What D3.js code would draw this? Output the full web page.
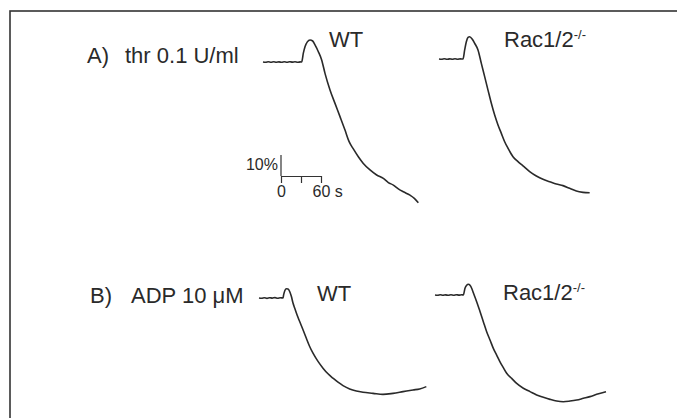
<!DOCTYPE html>
<html>
<head>
<meta charset="utf-8">
<script src="https://cdn.jsdelivr.net/npm/d3@7/dist/d3.min.js"></script>
<style>
body { margin: 0; background: #fff; }
text { font-family: "Liberation Sans", Arial, sans-serif; fill: #2a2a2a; }
</style>
</head>
<body>
<div class="chart"></div>
<script>
var svgWidth = 677;
var svgHeight = 418;

// aggregation traces: [time (s), light transmission change (%)], positive = downward
var wtThr = [
    [0, 0], [4, 0.15], [8, -0.1], [12, 0.1], [16, -0.15], [20, 0.1], [24, -0.05], [28, 0.15],
    [32, -0.1], [36, 0.1], [40, -0.15], [44, 0.05], [48, -0.1], [52, 0.15], [56, -0.05], [58, 0],
    [60.5, -4.2], [63, -7.3], [66.5, -9.6], [70.5, -10.5], [74.5, -10], [78, -8.1], [83, -4.9],
    [88, -1], [93, 5.4], [100.5, 13.3], [108, 19.7], [115.5, 26], [123, 32.4], [129, 37.8],
    [135.5, 41.4], [143, 45.1], [150.5, 48.3], [160.5, 51.4], [170.5, 53.8], [180.5, 55.4],
    [188, 57.4], [195.5, 58.6], [203, 60.4], [210.5, 61.8], [220.5, 63.4], [227, 64.9], [233, 67]
];
var racThr = [
    [0, 0], [4, 0.1], [8, -0.1], [12, 0.15], [16, -0.05], [20, 0.1], [24, -0.15], [28, 0.1],
    [32, -0.05], [36, 0], [38.5, -4.3], [41, -8.2], [43.5, -10.3], [46, -10.6], [50, -9.4],
    [53.5, -7.5], [58.5, -4.3], [63.5, 2.1], [68.5, 8.4], [73.5, 14.8], [78.5, 21.1], [83.5, 26.7],
    [88.5, 31.4], [93.5, 35.4], [98.5, 39.4], [103.5, 42.5], [111, 46.5], [118.5, 48.9],
    [126, 50.9], [136, 53.6], [146, 55.7], [156, 57.3], [166, 58.4], [176, 59.5], [186, 60.3],
    [196, 61.6], [206, 62.9], [216, 63.5], [226, 63.7]
];
var wtAdp = [
    [0, 0], [4, 0.15], [8, -0.1], [12, 0.2], [16, -0.15], [20, 0.05], [24, -0.2], [28, 0.15],
    [32, -0.1], [36, 0], [37, -1.6], [39, -3.7], [41, -4.4], [43.5, -4.3], [46, -3.1],
    [48.5, -0.8], [51, 2.4], [53.5, 4.8], [57, 8], [61, 11.2], [66, 15.1], [71, 19.2],
    [76, 23.1], [81, 26.3], [88.5, 30.2], [96, 33.4], [103.5, 36.1], [111, 38.2], [118.5, 40.1],
    [126, 41.7], [136, 43.3], [146, 44.3], [156, 44.9], [171, 45.4], [186, 45.9], [201, 45.4],
    [216, 44.6], [231, 43.8], [241, 43.3], [251, 42.2]
];
var racAdp = [
    [0, 0], [4, 0.1], [8, -0.15], [12, 0.1], [16, -0.05], [20, 0.15], [24, -0.1], [28, 0.1],
    [32, -0.15], [36, 0.05], [40, -0.1], [42.5, 0], [45, -3.2], [47.5, -4.6], [50, -5.1],
    [52.5, -4.6], [55, -3.2], [57.5, -1.1], [60, 1.1], [62.5, 3.2], [67.5, 7.9], [72.5, 12.7],
    [77.5, 17.5], [82.5, 21.4], [87.5, 25.4], [92.5, 28.6], [97.5, 31.8], [102.5, 34.6],
    [107.5, 37.3], [115, 39.7], [122.5, 42.1], [132.5, 44.4], [142.5, 46], [152.5, 47.6],
    [162.5, 48.7], [172.5, 49.7], [182.5, 50.5], [192.5, 50.8], [202.5, 50.5], [212.5, 50],
    [222.5, 49.2], [232.5, 48.4], [242.5, 47.3], [256.5, 46.1]
];

var rowLabels = ["A)", "B)"];
var agonists = ["thr 0.1 U/ml", "ADP 10 \u03bcM"];
var genotypes = ["WT", "Rac1/2"];
var scaleTicks = [0, 30, 60];
var scaleHeight = 10;

var svg = d3.select(".chart")
    .append("svg")
    .attr("width", svgWidth)
    .attr("height", svgHeight);

// frame (only top/left edges fall inside the picture)
svg.append("rect")
    .attr("x", 10).attr("y", 11)
    .attr("width", 700).attr("height", 440)
    .attr("fill", "none")
    .attr("stroke", "#333")
    .attr("stroke-width", 1.6);

// time and percent scales shared by every trace
var xScale = d3.scaleLinear().domain([0, 60]).range([0, 40]);
var yScale = d3.scaleLinear().domain([0, 10]).range([0, 21]);

var line = d3.line()
    .x(function (d) { return xScale(d[0]); })
    .y(function (d) { return yScale(d[1]); })
    .curve(d3.curveMonotoneX);

// panel layout: trace origin plus label offset
var panels = [
    { data: wtThr, row: 0, geno: 0, ox: 263, oy: 62, lx: 66, ly: -15 },
    { data: racThr, row: 0, geno: 1, ox: 439, oy: 59, lx: 65, ly: -12 },
    { data: wtAdp, row: 1, geno: 0, ox: 259, oy: 298, lx: 58, ly: 3 },
    { data: racAdp, row: 1, geno: 1, ox: 435, oy: 295, lx: 68, ly: 5 }
];

panels.forEach(function (p) {
    var g = svg.append("g").attr("transform", `translate(${p.ox},${p.oy})`);
    g.append("path")
        .datum(p.data)
        .attr("d", line)
        .attr("fill", "none")
        .attr("stroke", "#2a2a2a")
        .attr("stroke-width", 1.6)
        .attr("stroke-linejoin", "round");

    var t = g.append("text")
        .attr("x", p.lx)
        .attr("y", p.ly)
        .attr("font-size", "22px")
        .text(genotypes[p.geno]);
    if (p.geno === 1) {
        t.append("tspan")
            .attr("font-size", "13px")
            .attr("dy", "-8")
            .text("-/-");
    }
});

// row labels
var rowY = [63, 303];
rowLabels.forEach(function (r, i) {
    svg.append("text")
        .attr("x", i === 0 ? 87 : 90)
        .attr("y", rowY[i])
        .attr("font-size", "22px")
        .text(r);
    svg.append("text")
        .attr("x", i === 0 ? 125 : 131)
        .attr("y", rowY[i])
        .attr("font-size", "22px")
        .text(agonists[i]);
});

// scale bar
var bar = svg.append("g").attr("transform", "translate(281,176)");
var barAxis = d3.axisBottom(xScale)
    .tickValues(scaleTicks)
    .tickSize(7)
    .tickSizeOuter(0)
    .tickFormat(function (d) { return d === 30 ? "" : d; });
bar.call(barAxis);
bar.select(".domain").attr("stroke", "#333").attr("stroke-width", 1.2);
bar.selectAll(".tick line").attr("stroke", "#333").attr("stroke-width", 1.2);
bar.selectAll(".tick text")
    .attr("font-size", "16px")
    .attr("font-family", "Liberation Sans, Arial, sans-serif")
    .attr("fill", "#2a2a2a");
bar.selectAll(".tick text")
    .filter(function (d) { return d === 60; })
    .attr("text-anchor", "start")
    .attr("x", -9)
    .text("60 s");

bar.append("line")
    .attr("x1", 0).attr("x2", 0)
    .attr("y1", 0).attr("y2", -yScale(scaleHeight))
    .attr("stroke", "#333")
    .attr("stroke-width", 1.2);
bar.append("text")
    .attr("x", -3)
    .attr("y", -6)
    .attr("text-anchor", "end")
    .attr("font-size", "16px")
    .text(scaleHeight + "%");
</script>
</body>
</html>
